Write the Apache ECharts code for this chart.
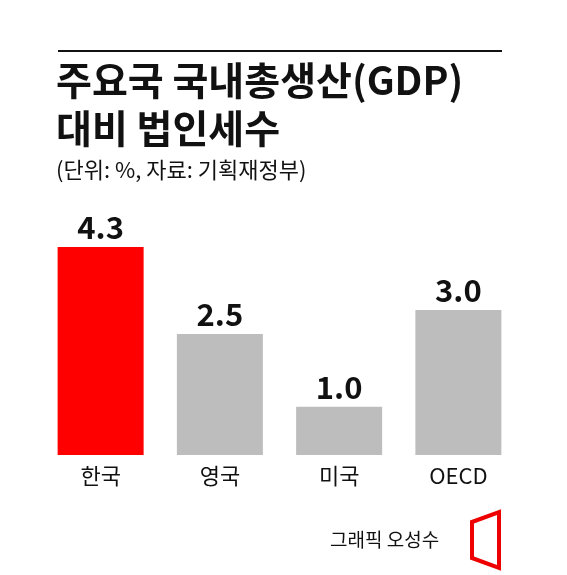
<!DOCTYPE html>
<html><head><meta charset="utf-8">
<script src="https://cdn.jsdelivr.net/npm/echarts@6/dist/echarts.min.js"></script>
<style>html,body{margin:0;padding:0;background:#fff}#c{width:567px;height:575px}</style>
</head><body><div id="c"></div>
<script>
const categories = ['한국','영국','미국','OECD'];
const values = [4.3, 2.5, 1.0, 3.0];
const colors = ['#ff0000','#bdbdbd','#bdbdbd','#bdbdbd'];
const F = '"Noto Sans CJK KR", sans-serif';
const chart = echarts.init(document.getElementById('c'));
chart.setOption({
  animation:false,
  grid:{left:41,right:49,top:247,bottom:120},
  xAxis:{type:'category',data:categories,axisLine:{show:false},axisTick:{show:false},
    axisLabel:{fontFamily:F,fontSize:22,color:'#111',margin:10}},
  yAxis:{type:'value',min:0,max:4.3,show:false,splitLine:{show:false}},
  series:[{type:'bar',barWidth:86,
    data:values.map((v,i)=>({value:v,itemStyle:{color:colors[i]}})),
    label:{show:true,position:'top',distance:4,fontFamily:F,fontSize:31,fontWeight:'bold',color:'#111',formatter:p=>p.value.toFixed(1)}}],
  graphic:[
    {type:'line',shape:{x1:58,y1:51,x2:502,y2:51},style:{stroke:'#111',lineWidth:2}},
    {type:'text',left:56,top:56,style:{text:'주요국 국내총생산(GDP)\n대비 법인세수',font:'bold 39px '+F,lineHeight:48,fill:'#111'}},
    {type:'text',left:56,top:159,style:{text:'(단위: %, 자료: 기획재정부)',font:'22px '+F,fill:'#111'}},
    {type:'text',left:330,top:530,style:{text:'그래픽 오성수',font:'19px '+F,fill:'#111'}},
    {type:'polygon',shape:{points:[[472,522],[499,512],[499,568],[472,558]]},style:{fill:'none',stroke:'#e00',lineWidth:4}}
  ]
});
</script></body></html>
